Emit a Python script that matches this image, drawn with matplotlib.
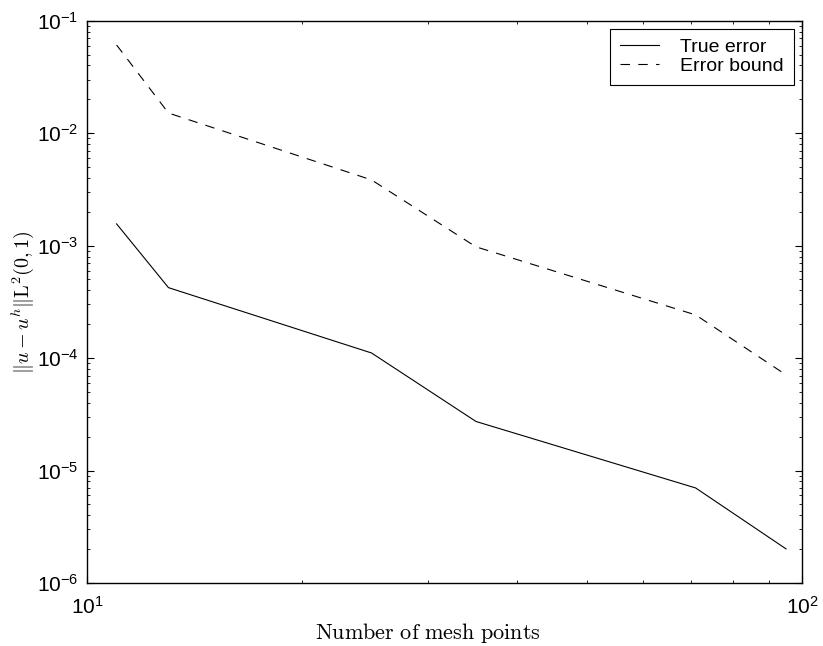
import numpy as np
import matplotlib
matplotlib.use('Agg')
from matplotlib import pyplot as plt
from matplotlib.ticker import LogLocator, FuncFormatter, NullFormatter

# data (log-log convergence plot)
mesh_points = [11, 13, 25, 35, 71, 95]
true_error = [1.56e-3, 4.23e-4, 1.11e-4, 2.73e-5, 7.0e-6, 2.01e-6]
error_bound = [6.08e-2, 1.51e-2, 3.84e-3, 9.75e-4, 2.42e-4, 7.09e-5]

plt.rcParams['font.family'] = ['Liberation Sans', 'DejaVu Sans']
plt.rcParams['mathtext.fontset'] = 'custom'
plt.rcParams['mathtext.rm'] = 'Liberation Sans'
plt.rcParams['mathtext.it'] = 'Liberation Sans:italic'
plt.rcParams['mathtext.bf'] = 'Liberation Sans:bold'

fig = plt.figure(figsize=(8.23, 6.46), dpi=100)
ax = fig.add_axes([87/823, 1-583/646, (802-87)/823, (583-20.7)/646])

ax.plot(mesh_points, true_error, color='black', lw=0.8, label='True error')
ax.plot(mesh_points, error_bound, color='black', lw=0.8,
        linestyle=(0, (8.5, 7.5)), label='Error bound')

ax.set_xscale('log')
ax.set_yscale('log')
ax.set_xlim(10, 100)
ax.set_ylim(1e-6, 1e-1)

def sci(v, pos):
    e = int(round(np.log10(v)))
    return r'$\mathregular{10^{%d}}$' % e

for axis in (ax.xaxis, ax.yaxis):
    axis.set_major_locator(LogLocator(base=10, numticks=20))
    axis.set_minor_locator(LogLocator(base=10, subs=np.arange(2, 10), numticks=20))
    axis.set_major_formatter(FuncFormatter(sci))
    axis.set_minor_formatter(NullFormatter())

ax.tick_params(which='both', direction='in', top=True, right=True, labelsize=15)
ax.tick_params(which='major', length=5, width=0.8)
ax.tick_params(axis='x', which='major', pad=9)
ax.tick_params(axis='y', which='major', pad=6)
ax.tick_params(which='minor', length=2.5, width=0.6)
for s in ax.spines.values():
    s.set_linewidth(1.0)

ax.set_xlabel(r'$\mathrm{Number\ of\ mesh\ points}$', math_fontfamily='cm', fontsize=16)
ax.xaxis.set_label_coords(0.477, -0.068)
ax.set_ylabel(r'$\|u-u^h\|\mathrm{L}^2(0,1)$', math_fontfamily='cm', fontsize=14.5, labelpad=1)

leg = ax.legend(loc='upper right', fontsize=14, fancybox=False, framealpha=1,
                edgecolor='black', borderaxespad=0.42, handlelength=2.0,
                handletextpad=1.1, borderpad=0.5, labelspacing=0.05)
leg.get_frame().set_linewidth(0.8)

fig.savefig('out.png', dpi=100)
